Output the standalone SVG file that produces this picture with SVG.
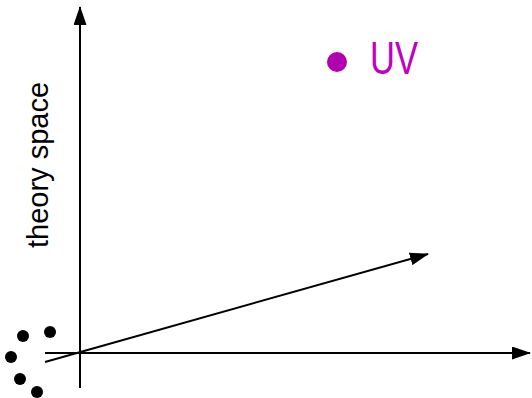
<svg xmlns="http://www.w3.org/2000/svg" width="532" height="398" viewBox="0 0 532 398">
<defs>
<style>
.ax{stroke:#000;stroke-width:2;fill:none}
.dot{fill:#000}
.lbl{font-family:"Liberation Sans",Arial,sans-serif}
</style>
<marker id="ah" viewBox="0 0 19 13" refX="18" refY="6.5" markerWidth="19" markerHeight="13" markerUnits="userSpaceOnUse" orient="auto">
<path d="M0,0 L19,6.5 L0,13 Z" fill="#000"/>
</marker>
</defs>
<rect width="532" height="398" fill="#fff"/>
<g id="connectors">
<line class="ax" x1="80" y1="388" x2="80" y2="7" marker-end="url(#ah)"/>
<line class="ax" x1="45" y1="353" x2="530" y2="353" marker-end="url(#ah)"/>
<line class="ax" x1="45" y1="362" x2="428" y2="254" marker-end="url(#ah)"/>
</g>
<g id="dots">
<circle class="dot" cx="23" cy="336" r="6"/>
<circle class="dot" cx="50" cy="332" r="6"/>
<circle class="dot" cx="11" cy="357" r="6"/>
<circle class="dot" cx="20" cy="379" r="6"/>
<circle class="dot" cx="37" cy="392" r="6"/>
</g>
<g id="uv">
<circle cx="337" cy="62" r="10" fill="#b000b0"/>
<text class="lbl" x="370" y="74" font-size="46" fill="#c000c0" textLength="48" lengthAdjust="spacingAndGlyphs">UV</text>
</g>
<g id="ylabel">
<text class="lbl" transform="translate(48,165) rotate(-90)" text-anchor="middle" font-size="29" fill="#000">theory space</text>
</g>
</svg>
